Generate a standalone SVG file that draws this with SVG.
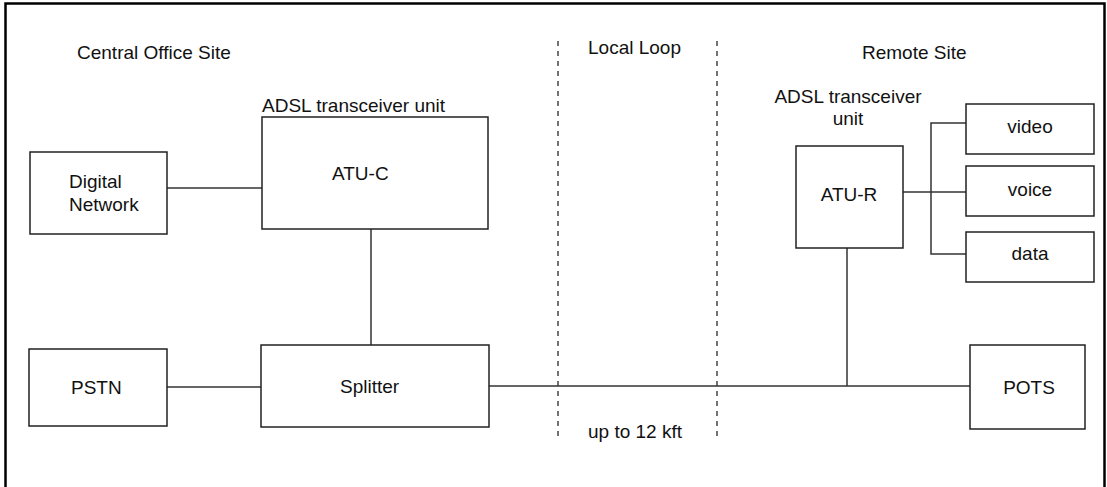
<svg xmlns="http://www.w3.org/2000/svg" width="1107" height="487" viewBox="0 0 1107 487">
<style>
text{font-family:"Liberation Sans",Arial,sans-serif;font-size:19px;fill:#111}
.box{fill:#fff;stroke:#222;stroke-width:1.5}
.ln{stroke:#333;stroke-width:1.5;fill:none}
.dash{stroke:#444;stroke-width:1.5;stroke-dasharray:5 5;fill:none}
.mid{text-anchor:middle}
</style>
<rect x="0" y="0" width="1107" height="487" fill="#fff"/>
<rect x="5.5" y="3.5" width="1099" height="530" fill="none" stroke="#000" stroke-width="2.5"/>
<g id="labels">
<text x="77" y="59">Central Office Site</text>
<text x="588" y="54">Local Loop</text>
<text x="862" y="59">Remote Site</text>
<text x="262" y="112">ADSL transceiver unit</text>
<text class="mid" x="848" y="103">ADSL transceiver</text>
<text class="mid" x="848" y="125">unit</text>
<text x="588" y="438">up to 12 kft</text>
</g>
<g id="dividers">
<line class="dash" x1="558" y1="41" x2="558" y2="436"/>
<line class="dash" x1="717" y1="41" x2="717" y2="436"/>
</g>
<g id="connectors">
<line class="ln" x1="167" y1="188" x2="262" y2="188"/>
<line class="ln" x1="371" y1="229" x2="371" y2="345"/>
<line class="ln" x1="167" y1="387" x2="261" y2="387"/>
<line class="ln" x1="489" y1="386" x2="970" y2="386"/>
<line class="ln" x1="847" y1="248" x2="847" y2="386"/>
<line class="ln" x1="903" y1="192" x2="966" y2="192"/>
<polyline class="ln" points="966,123 931,123 931,254 966,254"/>
</g>
<g id="digital-network">
<rect class="box" x="30" y="152" width="137" height="82"/>
<text x="69" y="188">Digital</text>
<text x="69" y="211">Network</text>
</g>
<g id="atu-c">
<rect class="box" x="262" y="117" width="226" height="112"/>
<text x="332" y="180">ATU-C</text>
</g>
<g id="pstn">
<rect class="box" x="29" y="349" width="138" height="77"/>
<text x="71" y="394">PSTN</text>
</g>
<g id="splitter">
<rect class="box" x="261" y="345" width="228" height="82"/>
<text x="340" y="393">Splitter</text>
</g>
<g id="atu-r">
<rect class="box" x="796" y="146" width="107" height="102"/>
<text class="mid" x="849" y="201">ATU-R</text>
</g>
<g id="video">
<rect class="box" x="966" y="104" width="128" height="50"/>
<text class="mid" x="1030" y="133">video</text>
</g>
<g id="voice">
<rect class="box" x="966" y="166" width="128" height="50"/>
<text class="mid" x="1030" y="196">voice</text>
</g>
<g id="data">
<rect class="box" x="966" y="232" width="128" height="50"/>
<text class="mid" x="1030" y="260">data</text>
</g>
<g id="pots">
<rect class="box" x="970" y="345" width="115" height="84"/>
<text class="mid" x="1029" y="394">POTS</text>
</g>
</svg>
